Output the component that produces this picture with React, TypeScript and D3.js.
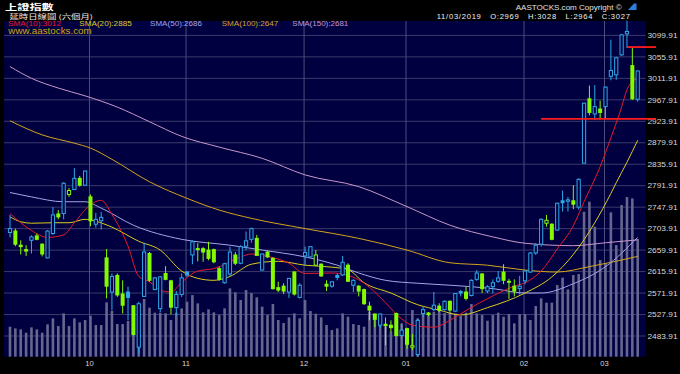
import React from "react";
import * as d3 from "d3";

// ---- Daily OHLC, 07/09/2018 .. 11/03/2019 (118 trading days) ----
const opens = [
  2696, 2699, 2670, 2661, 2680, 2689, 2672, 2644, 2694, 2734,
  2735, 2774, 2784, 2807, 2793, 2769, 2713, 2720, 2644, 2574,
  2608, 2570, 2574, 2546, 2461, 2565, 2653, 2579, 2540, 2612,
  2597, 2542, 2569, 2615, 2650, 2663, 2663, 2660, 2661, 2622,
  2593, 2611, 2650, 2633, 2668, 2682, 2684, 2619, 2656, 2643,
  2583, 2586, 2574, 2615, 2563, 2648, 2646, 2629, 2631, 2590,
  2586, 2608, 2609, 2629, 2588, 2586, 2579, 2545, 2529, 2506,
  2508, 2506, 2530, 2485, 2499, 2461, 2446, 2530, 2531, 2538,
  2545, 2538, 2555, 2535, 2575, 2574, 2567, 2600, 2611, 2576,
  2585, 2596, 2615, 2596, 2586, 2581, 2597, 2615, 2654, 2672,
  2715, 2713, 2701, 2761, 2760, 2761, 2748, 2838, 2970, 2939,
  2949, 2954, 3016, 3019, 3060, 3103, 3038, 2969,
];
const highs = [
  2732, 2704, 2680, 2670, 2690, 2694, 2674, 2701, 2748, 2742,
  2799, 2787, 2828, 2812, 2823, 2774, 2736, 2738, 2662, 2612,
  2612, 2598, 2585, 2547, 2554, 2675, 2656, 2605, 2607, 2627,
  2599, 2576, 2612, 2617, 2680, 2674, 2666, 2677, 2663, 2626,
  2634, 2667, 2656, 2670, 2698, 2706, 2691, 2653, 2659, 2645,
  2595, 2592, 2603, 2617, 2592, 2667, 2668, 2660, 2633, 2598,
  2596, 2612, 2648, 2633, 2600, 2588, 2581, 2554, 2530, 2530,
  2522, 2516, 2532, 2509, 2501, 2488, 2519, 2545, 2533, 2574,
  2551, 2557, 2557, 2572, 2578, 2585, 2600, 2619, 2613, 2588,
  2600, 2617, 2631, 2601, 2600, 2607, 2619, 2656, 2674, 2725,
  2732, 2715, 2757, 2782, 2769, 2793, 2807, 2962, 2997, 2998,
  2966, 2995, 3091, 3056, 3103, 3130, 3074, 3028,
];
const lows = [
  2686, 2668, 2651, 2648, 2653, 2680, 2647, 2643, 2691, 2723,
  2723, 2769, 2783, 2790, 2792, 2709, 2706, 2702, 2561, 2537,
  2564, 2530, 2516, 2485, 2448, 2564, 2595, 2578, 2533, 2598,
  2528, 2526, 2564, 2605, 2631, 2637, 2636, 2639, 2633, 2597,
  2591, 2607, 2629, 2631, 2660, 2675, 2650, 2618, 2644, 2579,
  2574, 2570, 2562, 2567, 2561, 2629, 2645, 2627, 2605, 2576,
  2583, 2598, 2607, 2595, 2574, 2565, 2548, 2516, 2502, 2500,
  2465, 2492, 2483, 2478, 2458, 2455, 2441, 2523, 2525, 2535,
  2533, 2536, 2533, 2533, 2565, 2557, 2565, 2597, 2572, 2572,
  2571, 2593, 2590, 2560, 2565, 2569, 2590, 2613, 2650, 2667,
  2708, 2680, 2700, 2739, 2739, 2744, 2743, 2838, 2936, 2927,
  2928, 2930, 3008, 3009, 3058, 3074, 2968, 2964,
];
const closes = [
  2704, 2672, 2667, 2658, 2687, 2682, 2652, 2699, 2732, 2728,
  2797, 2782, 2807, 2793, 2822, 2720, 2723, 2727, 2586, 2606,
  2568, 2547, 2563, 2487, 2550, 2656, 2598, 2603, 2605, 2600,
  2543, 2569, 2603, 2609, 2677, 2661, 2656, 2643, 2636, 2600,
  2632, 2656, 2633, 2667, 2679, 2704, 2649, 2652, 2646, 2581,
  2578, 2576, 2602, 2570, 2588, 2655, 2667, 2650, 2607, 2586,
  2595, 2604, 2635, 2596, 2598, 2576, 2550, 2537, 2518, 2529,
  2505, 2501, 2485, 2496, 2467, 2464, 2516, 2538, 2528, 2547,
  2537, 2555, 2537, 2571, 2572, 2561, 2598, 2613, 2581, 2585,
  2593, 2603, 2598, 2594, 2576, 2586, 2617, 2654, 2670, 2723,
  2721, 2682, 2756, 2757, 2763, 2754, 2805, 2961, 2942, 2954,
  2942, 2994, 3028, 3054, 3101, 3108, 2970, 3027,
];
// volume (100M shares)
const volumes = [
  90, 85, 82, 72, 88, 82, 72, 97, 115, 92,
  130, 92, 115, 103, 110, 123, 95, 95, 163, 138,
  98, 98, 107, 116, 140, 173, 147, 132, 132, 130,
  110, 132, 145, 165, 185, 160, 133, 142, 133, 125,
  145, 205, 193, 170, 200, 191, 178, 150, 125, 158,
  110, 101, 118, 130, 115, 170, 137, 129, 118, 95,
  80, 85, 130, 120, 98, 95, 90, 135, 110, 110,
  90, 75, 90, 100, 75, 140, 115, 140, 130, 135,
  142, 131, 134, 130, 122, 132, 158, 130, 125, 108,
  125, 132, 120, 128, 100, 128, 128, 110, 152, 175,
  162, 162, 215, 237, 202, 245, 248, 435, 465, 390,
  290, 280, 433, 335, 455, 479, 475, 353,
];

// moving averages: [day index, value]
const sma10 = [
  [0, 2735], [2, 2716], [4, 2700], [7, 2686], [10, 2691], [12, 2716], [15, 2753], [17, 2762],
  [19, 2733], [22, 2668], [24, 2606], [26, 2595], [28, 2578], [30, 2574], [32, 2594], [35, 2617],
  [38, 2622], [43, 2646], [45, 2652], [48, 2647], [52, 2633], [55, 2612], [60, 2613], [65, 2599],
  [68, 2574], [70, 2552], [73, 2519], [75, 2506], [79, 2502], [82, 2516], [85, 2536], [90, 2566],
  [94, 2586], [96, 2593], [99, 2617], [102, 2662], [105, 2710], [107, 2759], [110, 2831],
  [112, 2890], [114, 2953], [115, 2989], [116, 3005], [117, 3012],
];
const sma20 = [
  [0, 2728], [2, 2718], [4, 2715], [8, 2716], [11, 2716], [14, 2723], [16, 2719], [19, 2707],
  [24, 2678], [28, 2660], [32, 2617], [35, 2602], [38, 2598], [41, 2606], [45, 2631], [50, 2637],
  [55, 2629], [60, 2625], [63, 2620], [66, 2593], [71, 2572], [76, 2548], [80, 2537], [84, 2527],
  [89, 2542], [96, 2572], [101, 2605], [105, 2651], [109, 2716], [112, 2776], [113, 2798],
  [115, 2840], [117, 2885],
];
const sma50 = [
  [0, 2778], [4, 2769], [10, 2759], [14, 2759], [17, 2746], [23, 2711], [32, 2682], [41, 2670],
  [47, 2660], [55, 2646], [61, 2629], [65, 2613], [70, 2598], [76, 2592], [82, 2588], [90, 2581],
  [96, 2572], [99, 2572], [105, 2591], [111, 2626], [117, 2686],
];
const sma100 = [
  [0, 2925], [6, 2896], [12, 2879], [15, 2869], [19, 2846], [26, 2800], [33, 2766], [39, 2742],
  [45, 2725], [55, 2704], [65, 2684], [74, 2660], [82, 2634], [89, 2629], [96, 2619], [102, 2615],
  [108, 2626], [117, 2647],
];
const sma150 = [
  [0, 3036], [4, 3012], [9, 2992], [14, 2976], [20, 2953], [26, 2923], [32, 2893], [39, 2871],
  [47, 2848], [55, 2814], [65, 2790], [74, 2749], [82, 2711], [90, 2687], [96, 2674], [105, 2669],
  [111, 2675], [117, 2681],
];

const smaNames = ["SMA(10):3012", "SMA(20):2885", "SMA(50):2686", "SMA(100):2647", "SMA(150):2681"];
const smaColors = ["#e8182a", "#dccc1c", "#a4a4e8", "#d4a41c", "#c898c8"];

const monthIdx = [15, 33, 55, 74, 96, 111];
const monthLabels = ["10", "11", "12", "01", "02", "03"];

const yTickLabels = [
  "3099.91", "3055.91", "3011.91", "2967.91", "2923.91", "2879.91", "2835.91", "2791.91",
  "2747.91", "2703.91", "2659.91", "2615.91", "2571.91", "2527.91", "2483.91",
];

// red support / resistance levels and the day they start
const levelValues = [3076, 2929];
const levelStart = [115, 99];

const NAVY = "#000040";
const BLUE = "#2ea8e8";
const GREEN = "#84fa00";
const FONT = "'Liberation Sans', Arial, sans-serif";
const CJK = "'Noto Sans CJK TC', 'Noto Sans CJK SC', sans-serif";

export default function App() {
  const plotL = 4, plotR = 645.7, plotT = 21, plotB = 356.7;
  const x = d3.scaleLinear().domain([0, closes.length - 1]).range([10, 637.7]);
  const y = d3.scaleLinear().domain([2483.91, 3099.91]).range([336, 35.4]);
  const yVol = d3.scaleLinear().domain([0, 500]).range([plotB, plotB - 500 / 3]);

  const line = d3
    .line<number[]>()
    .x((d) => x(d[0]))
    .y((d) => y(d[1]))
    .curve(d3.curveMonotoneX);

  const smaSeries = [sma150, sma100, sma50, sma20, sma10];
  const smaSeriesColors = [smaColors[4], smaColors[3], smaColors[2], smaColors[1], smaColors[0]];

  const smaTextX = [8, 79.3, 150, 221.7, 292.3];
  const smaTextW = [53, 52.4, 52, 56.6, 56];

  return (
    <svg
      width={680}
      height={374}
      style={{ position: "fixed", left: 0, top: 0, display: "block", background: "#000" }}
    >
      <rect x={0} y={0} width={680} height={374} fill="#000" />
      <rect x={plotL} y={plotT} width={plotR - plotL} height={plotB - plotT} fill={NAVY} />

      {/* horizontal grid */}
      {yTickLabels.map((t) => (
        <line
          key={"g" + t}
          x1={plotL}
          x2={plotR}
          y1={y(+t)}
          y2={y(+t)}
          stroke="#3a3a6c"
          strokeWidth={1}
        />
      ))}
      {/* month grid */}
      {monthIdx.map((m) => (
        <line
          key={"m" + m}
          x1={x(m) - 1}
          x2={x(m) - 1}
          y1={plotT}
          y2={plotB}
          stroke="#4c4c7c"
          strokeWidth={1}
        />
      ))}

      {/* volume */}
      {volumes.map((v, i) => (
        <rect
          key={"v" + i}
          x={x(i) - 1.3}
          y={yVol(v)}
          width={2.6}
          height={plotB - yVol(v)}
          fill="#66668e"
        />
      ))}

      {/* moving averages */}
      {smaSeries.map((s, k) => (
        <path key={"s" + k} d={line(s as number[][]) || ""} fill="none" stroke={smaSeriesColors[k]} strokeWidth={1} />
      ))}

      {/* candles */}
      {closes.map((c, i) => {
        const o = opens[i];
        const prev = i === 0 ? o : closes[i - 1];
        const color = c >= prev ? BLUE : GREEN;
        const hollow = c >= o;
        const cx = x(i);
        const top = y(Math.max(o, c));
        const bot = y(Math.min(o, c));
        const h = Math.max(bot - top, 1);
        return (
          <g key={"c" + i}>
            <line x1={cx} x2={cx} y1={y(highs[i])} y2={y(lows[i])} stroke={color} strokeWidth={1} />
            {hollow ? (
              <rect x={cx - 1.6} y={top} width={3.2} height={h} fill={NAVY} stroke={color} strokeWidth={1} />
            ) : (
              <rect x={cx - 2} y={top - 0.5} width={4} height={h + 1} fill={color} />
            )}
          </g>
        );
      })}

      {/* y labels */}
      {yTickLabels.map((t) => (
        <text
          key={"t" + t}
          x={647.5}
          y={y(+t) + 2.7}
          fontFamily={FONT}
          fontSize={7.6}
          fill="#d8d8d8"
          textLength={30}
          lengthAdjust="spacingAndGlyphs"
        >
          {t}
        </text>
      ))}

      {/* red levels */}
      {levelValues.map((lv, k) => (
        <line
          key={"l" + k}
          x1={x(levelStart[k])}
          x2={656}
          y1={y(lv)}
          y2={y(lv)}
          stroke="#ff1c1c"
          strokeWidth={1.8}
        />
      ))}

      {/* month labels */}
      {monthIdx.map((m, k) => (
        <text
          key={"ml" + m}
          x={x(m) - 1}
          y={366}
          textAnchor="middle"
          fontFamily={FONT}
          fontSize={7.6}
          fill="#d8d8d8"
        >
          {monthLabels[k]}
        </text>
      ))}

      {/* header */}
      <text
        transform="translate(5,9.6) scale(1,0.68)"
        fontFamily={CJK}
        fontSize={12.2}
        fontWeight="bold"
        fill="#ffffff"
      >
        上證指數
      </text>
      <text
        transform="translate(9.5,19.4) scale(1,0.68)"
        fontFamily={CJK}
        fontSize={9.4}
        fill="#e8e8e8"
      >
        延時日線圖 (六個月)
      </text>

      {smaNames.map((n, k) => (
        <text
          key={"sn" + k}
          x={smaTextX[k]}
          y={26.2}
          fontFamily={FONT}
          fontSize={7}
          fill={smaColors[k]}
          textLength={smaTextW[k]}
          lengthAdjust="spacingAndGlyphs"
        >
          {n}
        </text>
      ))}
      <text
        x={8.3}
        y={33.8}
        fontFamily={FONT}
        fontSize={9}
        fill="#d0a810"
        textLength={83.4}
        lengthAdjust="spacingAndGlyphs"
      >
        www.aastocks.com
      </text>

      <text
        x={515.7}
        y={9.5}
        fontFamily={FONT}
        fontSize={7.2}
        fill="#e0e0e0"
        textLength={106}
        lengthAdjust="spacingAndGlyphs"
      >
        AASTOCKS.com Copyright ©
      </text>
      <path d="M628,10 L634,3.5 L636.5,3.5 L636.5,10 Z" fill="#2a80e0" />
      <text
        x={436.7}
        y={18.6}
        fontFamily={FONT}
        fontSize={7.6}
        fill="#f0f0f0"
        textLength={193.3}
        lengthAdjust="spacing"
        style={{ whiteSpace: "pre" }}
      >
        {"11/03/2019   O:2969   H:3028   L:2964   C:3027"}
      </text>
    </svg>
  );
}
